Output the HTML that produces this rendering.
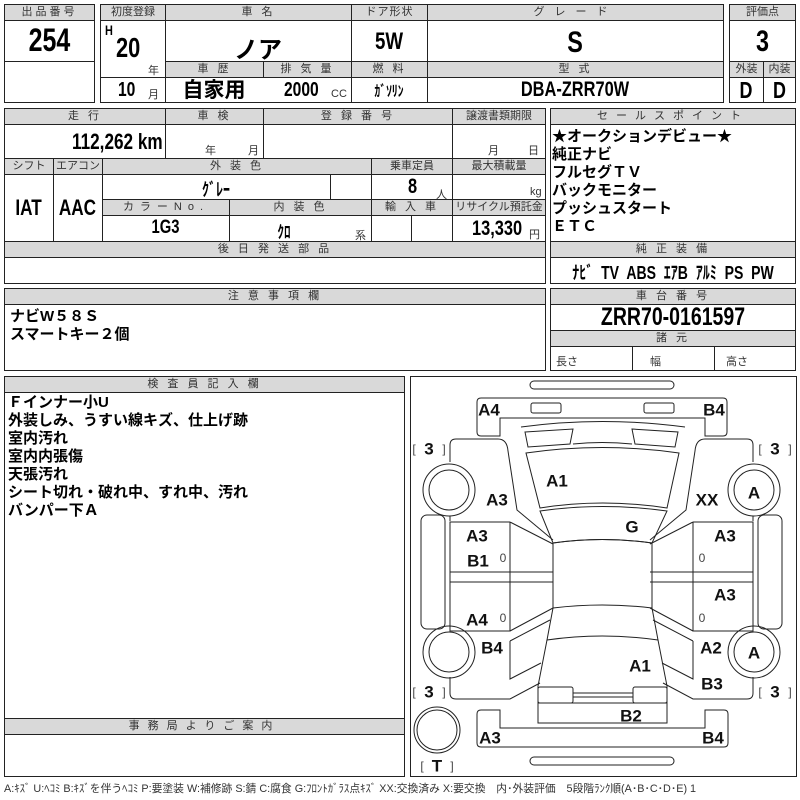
<!DOCTYPE html>
<html><head><meta charset="utf-8"><style>
*{margin:0;padding:0;box-sizing:border-box}
body{width:800px;height:800px;background:#fff;position:relative;overflow:hidden;font-family:"Liberation Sans","Noto Sans CJK JP",sans-serif;color:#000}
.b{position:absolute;border:1px solid #222}
.h{position:absolute;background:#d9d9d9;border:1px solid #222;font-size:11px;color:#333;text-align:center;line-height:14px;letter-spacing:3px}
.v{position:absolute;font-weight:bold;text-align:center;white-space:nowrap}
.n{transform:scaleX(0.78)}
.l{transform-origin:left center}
.s{position:absolute;font-size:11px;color:#333;white-space:nowrap}
.t{position:absolute;font-weight:bold;font-size:15px;line-height:18px;white-space:nowrap}
</style></head><body>
<!-- box1 -->
<div class="b" style="left:4px;top:4px;width:91px;height:99px"></div>
<div class="h" style="left:4px;top:4px;width:91px;height:17px">出品番号</div>
<div class="b" style="left:4px;top:61px;width:91px;height:1px;border-width:1px 0 0 0"></div>
<div class="v n" style="left:4px;top:22px;width:91px;font-size:32px">254</div>
<!-- box2 -->
<div class="b" style="left:100px;top:4px;width:624px;height:99px"></div>
<div class="h" style="left:100px;top:4px;width:66px;height:17px;letter-spacing:0">初度登録</div>
<div class="h" style="left:165px;top:4px;width:187px;height:17px">車 名</div>
<div class="h" style="left:351px;top:4px;width:77px;height:17px;letter-spacing:1px">ドア形状</div>
<div class="h" style="left:427px;top:4px;width:297px;height:17px;letter-spacing:10px">グレード</div>
<div class="b" style="left:165px;top:20px;width:1px;height:83px;border-width:0 0 0 1px"></div>
<div class="b" style="left:351px;top:20px;width:1px;height:83px;border-width:0 0 0 1px"></div>
<div class="b" style="left:427px;top:20px;width:1px;height:83px;border-width:0 0 0 1px"></div>
<div class="b" style="left:100px;top:77px;width:66px;height:1px;border-width:1px 0 0 0"></div>
<div class="h" style="left:165px;top:61px;width:99px;height:17px">車 歴</div>
<div class="h" style="left:263px;top:61px;width:89px;height:17px">排 気 量</div>
<div class="h" style="left:351px;top:61px;width:77px;height:17px">燃 料</div>
<div class="h" style="left:427px;top:61px;width:297px;height:17px">型 式</div>
<div class="v n l" style="left:105px;top:22px;font-size:14px">H</div>
<div class="v n l" style="left:116px;top:32px;font-size:28px">20</div>
<div class="s" style="left:148px;top:62px">年</div>
<div class="v n l" style="left:118px;top:79px;font-size:20px">10</div>
<div class="s" style="left:148px;top:86px">月</div>
<div class="v" style="left:165px;top:30px;width:186px;font-size:24px">ノア</div>
<div class="v" style="left:165px;top:78px;width:98px;font-size:21px;line-height:26px">自家用</div>
<div class="v n l" style="left:284px;top:79px;font-size:20px">2000</div>
<div class="s" style="left:331px;top:88px">CC</div>
<div class="v n" style="left:351px;top:80px;width:76px;font-size:15px">ｶﾞｿﾘﾝ</div>
<div class="v n" style="left:351px;top:28px;width:76px;font-size:24px">5W</div>
<div class="v n" style="left:427px;top:26px;width:296px;font-size:30px">S</div>
<div class="v n" style="left:427px;top:78px;width:296px;font-size:21px">DBA-ZRR70W</div>
<!-- box3 -->
<div class="b" style="left:729px;top:4px;width:67px;height:99px"></div>
<div class="h" style="left:729px;top:4px;width:67px;height:17px;letter-spacing:0">評価点</div>
<div class="h" style="left:729px;top:61px;width:35px;height:17px;letter-spacing:0">外装</div>
<div class="h" style="left:763px;top:61px;width:33px;height:17px;letter-spacing:0">内装</div>
<div class="b" style="left:763px;top:77px;width:1px;height:26px;border-width:0 0 0 1px"></div>
<div class="v n" style="left:729px;top:25px;width:67px;font-size:30px">3</div>
<div class="v n" style="left:729px;top:77px;width:34px;font-size:23px">D</div>
<div class="v n" style="left:763px;top:77px;width:33px;font-size:23px">D</div>
<!-- section2 -->
<div class="b" style="left:4px;top:108px;width:542px;height:176px"></div>
<div class="h" style="left:4px;top:108px;width:162px;height:17px">走 行</div>
<div class="h" style="left:165px;top:108px;width:99px;height:17px">車 検</div>
<div class="h" style="left:263px;top:108px;width:190px;height:17px">登 録 番 号</div>
<div class="h" style="left:452px;top:108px;width:94px;height:17px;letter-spacing:0">譲渡書類期限</div>
<div class="b" style="left:165px;top:124px;width:1px;height:35px;border-width:0 0 0 1px"></div>
<div class="b" style="left:263px;top:124px;width:1px;height:35px;border-width:0 0 0 1px"></div>
<div class="b" style="left:452px;top:124px;width:1px;height:35px;border-width:0 0 0 1px"></div>
<div class="v n l" style="left:72px;top:129px;font-size:22px">112,262 km</div>
<div class="s" style="left:205px;top:142px">年</div><div class="s" style="left:248px;top:142px">月</div>
<div class="s" style="left:488px;top:142px">月</div><div class="s" style="left:528px;top:142px">日</div>
<div class="h" style="left:4px;top:158px;width:50px;height:17px;letter-spacing:0">シフト</div>
<div class="h" style="left:53px;top:158px;width:50px;height:17px;letter-spacing:0">エアコン</div>
<div class="h" style="left:102px;top:158px;width:270px;height:17px">外 装 色</div>
<div class="h" style="left:371px;top:158px;width:82px;height:17px;letter-spacing:0">乗車定員</div>
<div class="h" style="left:452px;top:158px;width:94px;height:17px;letter-spacing:0">最大積載量</div>
<div class="b" style="left:53px;top:174px;width:1px;height:68px;border-width:0 0 0 1px"></div>
<div class="b" style="left:102px;top:174px;width:1px;height:68px;border-width:0 0 0 1px"></div>
<div class="b" style="left:330px;top:174px;width:1px;height:26px;border-width:0 0 0 1px"></div>
<div class="b" style="left:371px;top:174px;width:1px;height:68px;border-width:0 0 0 1px"></div>
<div class="b" style="left:452px;top:174px;width:1px;height:68px;border-width:0 0 0 1px"></div>
<div class="b" style="left:411px;top:215px;width:1px;height:27px;border-width:0 0 0 1px"></div>
<div class="h" style="left:102px;top:199px;width:128px;height:17px;letter-spacing:6px">カラーNo.</div>
<div class="h" style="left:229px;top:199px;width:143px;height:17px">内 装 色</div>
<div class="h" style="left:371px;top:199px;width:82px;height:17px">輸 入 車</div>
<div class="h" style="left:452px;top:199px;width:94px;height:17px;letter-spacing:0">リサイクル預託金</div>
<div class="b" style="left:229px;top:215px;width:1px;height:27px;border-width:0 0 0 1px"></div>
<div class="v n" style="left:4px;top:195px;width:49px;font-size:22px">IAT</div>
<div class="v n" style="left:53px;top:195px;width:49px;font-size:22px">AAC</div>
<div class="v n" style="left:102px;top:176px;width:228px;font-size:18px">ｸﾞﾚｰ</div>
<div class="v n l" style="left:408px;top:175px;font-size:21px">8</div><div class="s" style="left:436px;top:186px">人</div>
<div class="s" style="left:530px;top:186px">kg</div>
<div class="v n" style="left:102px;top:217px;width:127px;font-size:19px">1G3</div>
<div class="v n" style="left:229px;top:218px;width:110px;font-size:17px">ｸﾛ</div><div class="s" style="left:355px;top:227px">系</div>
<div class="v n l" style="left:472px;top:217px;font-size:21px">13,330</div><div class="s" style="left:529px;top:226px">円</div>
<div class="h" style="left:4px;top:241px;width:542px;height:17px">後 日 発 送 部 品</div>
<!-- sales -->
<div class="b" style="left:550px;top:108px;width:246px;height:176px"></div>
<div class="h" style="left:550px;top:108px;width:246px;height:17px;letter-spacing:8px">セールスポイント</div>
<div class="t" style="left:552px;top:128px">★オークションデビュー★<br>純正ナビ<br>フルセグＴＶ<br>バックモニター<br>プッシュスタート<br>ＥＴＣ</div>
<div class="h" style="left:550px;top:241px;width:246px;height:17px">純 正 装 備</div>
<div class="v n" style="left:530px;top:259px;width:286px;font-size:18px;word-spacing:5px">ﾅﾋﾞ TV ABS ｴｱB ｱﾙﾐ PS PW</div>
<!-- section3 -->
<div class="b" style="left:4px;top:288px;width:542px;height:83px"></div>
<div class="h" style="left:4px;top:288px;width:542px;height:17px">注 意 事 項 欄</div>
<div class="t" style="left:10px;top:308px">ナビW５８Ｓ<br>スマートキー２個</div>
<div class="b" style="left:550px;top:288px;width:246px;height:83px"></div>
<div class="h" style="left:550px;top:288px;width:246px;height:17px">車 台 番 号</div>
<div class="v n" style="left:550px;top:303px;width:246px;font-size:25px">ZRR70-0161597</div>
<div class="h" style="left:550px;top:330px;width:246px;height:17px">諸 元</div>
<div class="b" style="left:632px;top:346px;width:1px;height:25px;border-width:0 0 0 1px"></div>
<div class="b" style="left:714px;top:346px;width:1px;height:25px;border-width:0 0 0 1px"></div>
<div class="s" style="left:556px;top:353px">長さ</div><div class="s" style="left:650px;top:353px">幅</div><div class="s" style="left:726px;top:353px">高さ</div>
<!-- section4 -->
<div class="b" style="left:4px;top:376px;width:401px;height:401px"></div>
<div class="h" style="left:4px;top:376px;width:401px;height:17px">検 査 員 記 入 欄</div>
<div class="t" style="left:8px;top:394px">Ｆインナー小U<br>外装しみ、うすい線キズ、仕上げ跡<br>室内汚れ<br>室内内張傷<br>天張汚れ<br>シート切れ・破れ中、すれ中、汚れ<br>バンパー下Ａ</div>
<div class="h" style="left:4px;top:718px;width:401px;height:17px;letter-spacing:8px">事務局よりご案内</div>
<div class="s" style="left:4px;top:780px;font-size:10.8px">A:ｷｽﾞ U:ﾍｺﾐ B:ｷｽﾞを伴うﾍｺﾐ P:要塗装 W:補修跡 S:錆 C:腐食 G:ﾌﾛﾝﾄｶﾞﾗｽ点ｷｽﾞ XX:交換済み X:要交換　内･外装評価　5段階ﾗﾝｸ順(A･B･C･D･E) 1</div>
<div class="b" style="left:410px;top:376px;width:387px;height:401px"></div>
<svg style="position:absolute;left:0;top:0" width="800" height="800" viewBox="0 0 800 800" fill="none" stroke="#222" stroke-width="1">
<rect x="530" y="381" width="144" height="8" rx="4"/>
<rect x="530" y="757" width="144" height="8" rx="4"/>
<path d="M481,398 H723 q4,0 4,4 V432 q0,4 -4,4 H705 V418 H500 V436 H481 q-4,0 -4,-4 V402 q0,-4 4,-4Z"/>
<rect x="531" y="403" width="30" height="10" rx="2"/><rect x="644" y="403" width="30" height="10" rx="2"/>
<path d="M481,710 H500 V728 H705 V710 H724 q4,0 4,4 V743 q0,4 -4,4 H481 q-4,0 -4,-4 V714 q0,-4 4,-4Z"/>
<path d="M521,427 Q602,416 685,427"/>
<path d="M525,432 L573,429 L570,444 L528,447Z M632,429 L678,432 L675,447 L635,444Z"/>
<path d="M573,444 Q602,441 632,444"/>
<path d="M526,453 Q602,442 679,453 L667,508 Q602,498 540,508Z"/>
<path d="M540,511 Q602,502 667,511 L652,543 Q602,536 553,543Z"/>
<path d="M553,543 Q602,536 652,543 V608 Q602,602 553,608Z"/>
<path d="M553,608 L547,640 Q602,632 658,640 L652,608"/>
<path d="M547,640 L538,686 V723 H667 V686 L658,640"/>
<rect x="538" y="687" width="35" height="16" rx="2"/><rect x="633" y="687" width="34" height="16" rx="2"/>
<path d="M573,693 H633 M573,697 H633 M538,703 H667"/>
<g id="half">
<path d="M450,462 V445 q0,-6 6,-6 H498 q9,0 10,12 L517,510 L553,540"/>
<circle cx="449" cy="490" r="26"/><circle cx="449" cy="490" r="20"/>
<path d="M450,516 V521"/>
<rect x="421" y="515" width="24" height="114" rx="6"/>
<path d="M450,522 H510 V631 H450Z M450,572 H553 M450,582 H553 M510,522 L553,544 M510,631 L553,608"/>
<circle cx="449" cy="652" r="26"/><circle cx="449" cy="652" r="20"/>
<path d="M510,641 L550,620 M510,641 V679 L541,663 M450,677 V693 q0,6 6,6 H510 L540,683"/>
</g>
<use href="#half" transform="translate(1203,0) scale(-1,1)"/>
<circle cx="437" cy="730" r="23"/><circle cx="437" cy="730" r="20"/>
<g fill="#111" stroke="none" font-family="Liberation Sans,sans-serif" font-weight="bold" font-size="17" text-anchor="middle" dominant-baseline="central">
<text x="489" y="410">A4</text><text x="714" y="410">B4</text>
<text x="557" y="481">A1</text><text x="497" y="500">A3</text><text x="707" y="500">XX</text>
<text x="754" y="493">A</text><text x="632" y="527">G</text>
<text x="477" y="536">A3</text><text x="725" y="536">A3</text>
<text x="478" y="561">B1</text><text x="725" y="595">A3</text>
<text x="477" y="620">A4</text><text x="492" y="648">B4</text>
<text x="711" y="648">A2</text><text x="754" y="653">A</text>
<text x="640" y="666">A1</text><text x="712" y="684">B3</text>
<text x="631" y="716">B2</text><text x="490" y="738">A3</text><text x="713" y="738">B4</text>
<text x="437" y="766">T</text>
<text x="429" y="449">3</text><text x="775" y="449">3</text>
<text x="429" y="692">3</text><text x="775" y="692">3</text>
</g>
<g fill="#444" stroke="none" font-family="Liberation Sans,sans-serif" font-size="12" text-anchor="middle" dominant-baseline="central">
<text x="503" y="558">0</text><text x="702" y="558">0</text><text x="503" y="618">0</text><text x="702" y="618">0</text>
<text x="414" y="449">[</text><text x="444" y="449">]</text><text x="760" y="449">[</text><text x="790" y="449">]</text>
<text x="414" y="692">[</text><text x="444" y="692">]</text><text x="760" y="692">[</text><text x="790" y="692">]</text>
<text x="422" y="766">[</text><text x="452" y="766">]</text>
</g>
</svg>
</body></html>
